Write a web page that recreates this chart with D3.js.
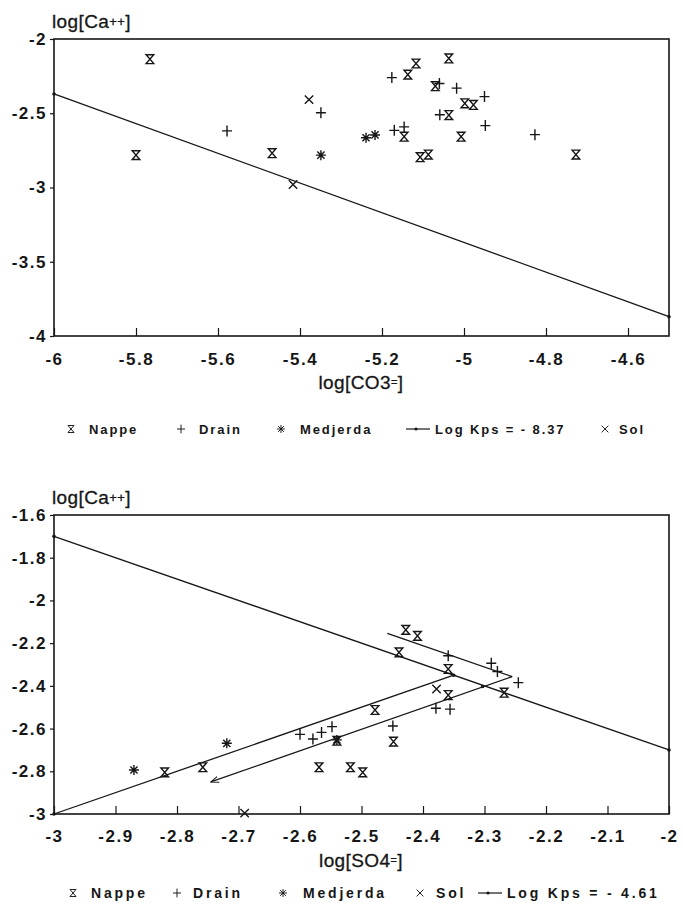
<!DOCTYPE html>
<html>
<head>
<meta charset="utf-8">
<script src="https://cdn.jsdelivr.net/npm/d3@7"></script>
<style>
  body { margin: 0; background: #fff; }
  svg { display: block; font-family: "Liberation Sans", Arial, sans-serif; }
</style>
</head>
<body>
<script>
// ---- top chart : log[Ca++] vs log[CO3=] ----
const nappeTop = [
  [-5.766, -2.136], [-5.80, -2.782], [-5.468, -2.769], [-5.117, -2.165], [-5.137, -2.24],
  [-5.037, -2.131], [-5.07, -2.318], [-4.998, -2.433], [-4.977, -2.444], [-5.037, -2.512],
  [-5.146, -2.658], [-5.007, -2.658], [-5.107, -2.796], [-5.087, -2.778], [-4.727, -2.778]
];
const drainTop = [
  [-5.578, -2.619], [-5.349, -2.497], [-5.176, -2.26], [-5.06, -2.30], [-5.018, -2.331],
  [-4.95, -2.388], [-5.059, -2.51], [-5.17, -2.615], [-5.146, -2.592], [-4.948, -2.583],
  [-4.827, -2.644]
];
const medjerdaTop = [[-5.349, -2.782], [-5.239, -2.665], [-5.217, -2.646]];
const solTop = [[-5.378, -2.408], [-5.417, -2.98]];
const kpsTop = [[-6, -2.37], [-4.5, -3.87]];
const xTicksTop = [-6, -5.8, -5.6, -5.4, -5.2, -5, -4.8, -4.6];
const xLabelsTop = ["-6", "-5.8", "-5.6", "-5.4", "-5.2", "-5", "-4.8", "-4.6"];
const yTicksTop = [-2, -2.5, -3, -3.5, -4];
const yLabelsTop = ["-2", "-2.5", "-3", "-3.5", "-4"];

// ---- bottom chart : log[Ca++] vs log[SO4=] ----
const nappeBottom = [
  [-2.428, -2.138], [-2.409, -2.166], [-2.439, -2.243], [-2.359, -2.321], [-2.268, -2.432],
  [-2.359, -2.443], [-2.478, -2.513], [-2.448, -2.661], [-2.54, -2.657], [-2.569, -2.781],
  [-2.518, -2.781], [-2.498, -2.805], [-2.82, -2.805], [-2.758, -2.781]
];
const drainBottom = [
  [-2.359, -2.259], [-2.289, -2.294], [-2.279, -2.333], [-2.245, -2.385], [-2.379, -2.505],
  [-2.356, -2.509], [-2.449, -2.588], [-2.6, -2.627], [-2.579, -2.649], [-2.565, -2.618],
  [-2.548, -2.591]
];
const medjerdaBottom = [[-2.87, -2.794], [-2.719, -2.669], [-2.54, -2.653]];
const solBottom = [[-2.378, -2.415], [-2.69, -2.996]];
const kpsBottom = [[-3, -1.7], [-2, -2.7]];
const kpsSegment = [[-2.458, -2.154], [-2.255, -2.357]];
const ratioLine = [[-3, -3], [-2.35, -2.35]];
const arrowLine = [[-2.255, -2.357], [-2.745, -2.85]];
const lineDots = [[-3, -1.7], [-2, -2.7], [-2.35, -2.35], [-2.303, -2.403], [-3, -3]];
const xTicksBottom = [-3, -2.9, -2.8, -2.7, -2.6, -2.5, -2.4, -2.3, -2.2, -2.1, -2];
const xLabelsBottom = ["-3", "-2.9", "-2.8", "-2.7", "-2.6", "-2.5", "-2.4", "-2.3", "-2.2", "-2.1", "-2"];
const yTicksBottom = [-1.6, -1.8, -2, -2.2, -2.4, -2.6, -2.8, -3];
const yLabelsBottom = ["-1.6", "-1.8", "-2", "-2.2", "-2.4", "-2.6", "-2.8", "-3"];

const ink = "#161616";

// marker shapes
const shapes = {
  nappe: "M-3.8,-4.4H3.8L-3.8,4.4H3.8Z",
  drain: "M-5,0H5M0,-5.5V5.5",
  medjerda: "M-5,0H5M0,-5V5M-3.6,-3.6L3.6,3.6M-3.6,3.6L3.6,-3.6",
  sol: "M-4.2,-4.2L4.2,4.2M-4.2,4.2L4.2,-4.2"
};

const svg = d3.select("body").append("svg").attr("width", 683).attr("height", 916);
svg.append("rect").attr("width", 683).attr("height", 916).attr("fill", "#fff");

svg.append("defs").append("marker")
  .attr("id", "arrow")
  .attr("viewBox", "0 0 10 10")
  .attr("refX", 9).attr("refY", 5)
  .attr("markerWidth", 9).attr("markerHeight", 9)
  .attr("markerUnits", "userSpaceOnUse")
  .attr("orient", "auto")
  .append("path")
  .attr("d", "M0,1.5L9,5L0,8.5")
  .attr("fill", "none")
  .attr("stroke", ink)
  .attr("stroke-width", 1.2);

function drawPanel(p) {
  const x = d3.scaleLinear().domain(p.xDomain).range([54, 669]);
  const y = d3.scaleLinear().domain(p.yDomain).range([p.bottom, p.top]);
  const g = svg.append("g");

  // x axis
  const xAxis = d3.axisBottom(x)
    .tickValues(p.xTicks)
    .tickFormat((d, i) => p.xLabels[i])
    .tickSizeInner(-8)
    .tickSizeOuter(0)
    .tickPadding(p.xPad);
  const gx = g.append("g").attr("transform", "translate(0," + p.bottom + ")").call(xAxis);

  // y axis
  const yAxis = d3.axisLeft(y)
    .tickValues(p.yTicks)
    .tickFormat((d, i) => p.yLabels[i])
    .tickSizeInner(4)
    .tickSizeOuter(0)
    .tickPadding(3);
  const gy = g.append("g").attr("transform", "translate(54,0)").call(yAxis);

  [gx, gy].forEach((a) => {
    a.select(".domain").remove();
    a.selectAll(".tick line").attr("stroke", ink).attr("stroke-width", 1.2);
    a.selectAll(".tick text")
      .attr("fill", ink)
      .style("font-size", "17px")
      .style("font-weight", "bold")
      .style("letter-spacing", "1.5px");
  });

  // frame
  g.append("rect")
    .attr("x", 54).attr("y", p.top)
    .attr("width", 615).attr("height", p.bottom - p.top)
    .attr("fill", "none")
    .attr("stroke", ink)
    .attr("stroke-width", 1.6);

  // axis titles
  const yt = g.append("text")
    .attr("x", 52).attr("y", p.top - 11)
    .attr("fill", ink)
    .attr("stroke", ink).attr("stroke-width", 0.3)
    .style("font-size", "19px")
    .style("letter-spacing", "0.4px");
  yt.append("tspan").text("log[Ca");
  yt.append("tspan").text("++").style("font-size", "13px").attr("dy", -2);
  yt.append("tspan").text("]").attr("dy", 2);

  const xt = g.append("text")
    .attr("x", 361).attr("y", p.bottom + p.titleGap)
    .attr("text-anchor", "middle")
    .attr("fill", ink)
    .attr("stroke", ink).attr("stroke-width", 0.3)
    .style("font-size", "19px")
    .style("letter-spacing", "0.4px");
  xt.append("tspan").text(p.xTitle);
  xt.append("tspan").text("=").style("font-size", "11px").attr("dy", -3);
  xt.append("tspan").text("]").attr("dy", 3);

  const line = d3.line().x((d) => x(d[0])).y((d) => y(d[1]));

  p.lines.forEach((l) => {
    g.append("path")
      .attr("d", line(l.data))
      .attr("fill", "none")
      .attr("stroke", ink)
      .attr("stroke-width", 1.3)
      .attr("marker-end", l.arrow ? "url(#arrow)" : null);
  });

  g.selectAll(".ldot")
    .data(p.dots)
    .enter()
    .append("circle")
    .attr("cx", (d) => x(d[0]))
    .attr("cy", (d) => y(d[1]))
    .attr("r", 1.8)
    .attr("fill", ink);

  p.series.forEach((s) => {
    g.selectAll(null)
      .data(s.data)
      .enter()
      .append("path")
      .attr("d", shapes[s.shape])
      .attr("transform", (d) => "translate(" + x(d[0]) + "," + y(d[1]) + ")")
      .attr("fill", "none")
      .attr("stroke", ink)
      .attr("stroke-width", 1.4);
  });

  // legend
  const lg = g.append("g").attr("transform", "translate(0," + p.legendY + ")");
  p.legend.forEach((it) => {
    if (it.shape === "line") {
      lg.append("line")
        .attr("x1", it.x - 12).attr("x2", it.x + 12)
        .attr("y1", -5).attr("y2", -5)
        .attr("stroke", ink).attr("stroke-width", 1.2);
      lg.append("circle").attr("cx", it.x - 2).attr("cy", -5).attr("r", 1.6).attr("fill", ink);
    } else {
      lg.append("path")
        .attr("d", shapes[it.shape])
        .attr("transform", "translate(" + it.x + ",-5) scale(0.8)")
        .attr("fill", "none").attr("stroke", ink).attr("stroke-width", 1.2);
    }
    lg.append("text")
      .attr("x", it.tx).attr("y", 0)
      .attr("fill", ink)
      .style("font-size", p.legendFont + "px")
      .style("font-weight", "bold")
      .style("letter-spacing", p.legendSpacing + "px")
      .text(it.label);
  });
}

drawPanel({
  xDomain: [-6, -4.5], yDomain: [-4, -2], top: 39, bottom: 336,
  xTicks: xTicksTop, xLabels: xLabelsTop, yTicks: yTicksTop, yLabels: yLabelsTop,
  xPad: 17, titleGap: 53,
  xTitle: "log[CO3",
  lines: [{ data: kpsTop }],
  dots: kpsTop,
  series: [
    { shape: "nappe", data: nappeTop },
    { shape: "drain", data: drainTop },
    { shape: "medjerda", data: medjerdaTop },
    { shape: "sol", data: solTop }
  ],
  legendY: 434, legendFont: 13, legendSpacing: 1.9,
  legend: [
    { shape: "nappe", label: "Nappe", x: 71, tx: 89 },
    { shape: "drain", label: "Drain", x: 181, tx: 199 },
    { shape: "medjerda", label: "Medjerda", x: 281, tx: 300 },
    { shape: "line", label: "Log Kps = - 8.37", x: 418, tx: 435 },
    { shape: "sol", label: "Sol", x: 605, tx: 619 }
  ]
});

drawPanel({
  xDomain: [-3, -2], yDomain: [-3, -1.6], top: 515, bottom: 814,
  xTicks: xTicksBottom, xLabels: xLabelsBottom, yTicks: yTicksBottom, yLabels: yLabelsBottom,
  xPad: 16, titleGap: 53,
  xTitle: "log[SO4",
  lines: [
    { data: kpsBottom },
    { data: kpsSegment },
    { data: ratioLine },
    { data: arrowLine, arrow: true }
  ],
  dots: lineDots,
  series: [
    { shape: "nappe", data: nappeBottom },
    { shape: "drain", data: drainBottom },
    { shape: "medjerda", data: medjerdaBottom },
    { shape: "sol", data: solBottom }
  ],
  legendY: 898, legendFont: 14, legendSpacing: 2.8,
  legend: [
    { shape: "nappe", label: "Nappe", x: 73, tx: 91 },
    { shape: "drain", label: "Drain", x: 177, tx: 193 },
    { shape: "medjerda", label: "Medjerda", x: 283, tx: 303 },
    { shape: "sol", label: "Sol", x: 420, tx: 436 },
    { shape: "line", label: "Log Kps = - 4.61", x: 490, tx: 507 }
  ]
});
</script>
</body>
</html>
